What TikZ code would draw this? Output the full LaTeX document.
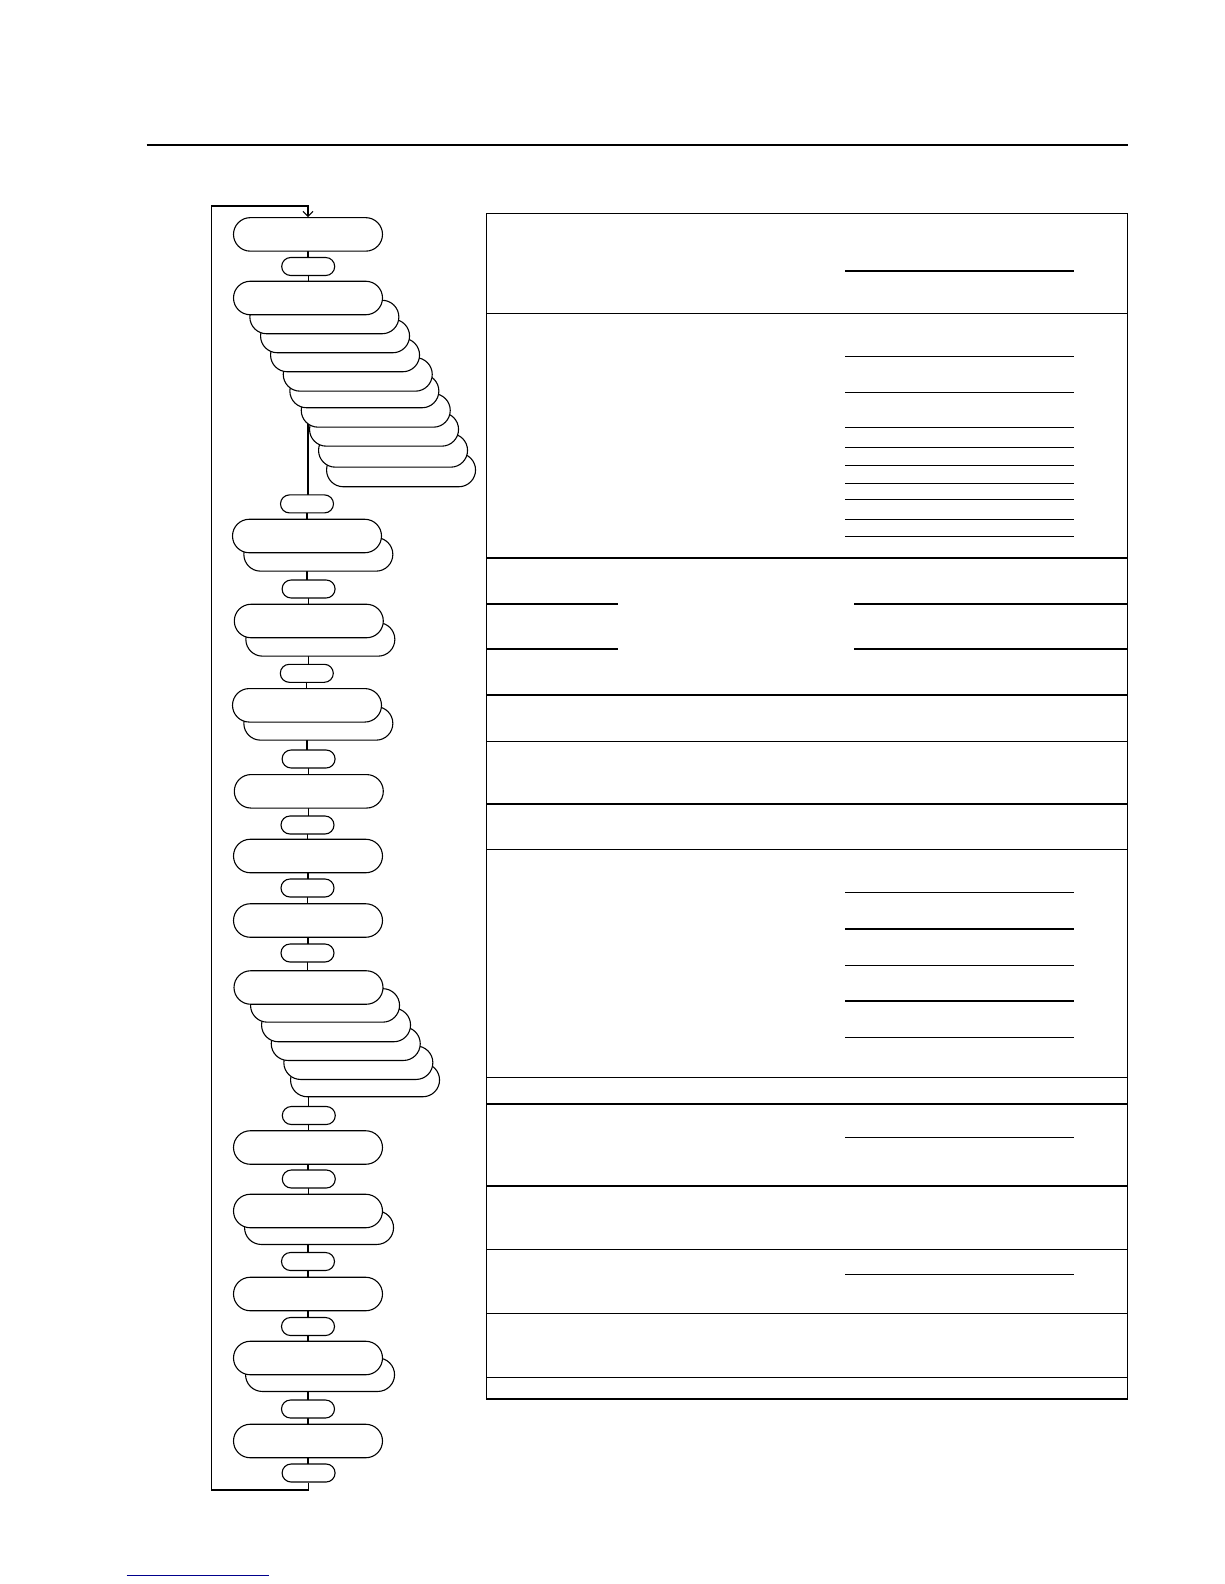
\documentclass[tikz,border=0pt]{standalone}
\usetikzlibrary{arrows.meta}
\pgfdeclarelayer{bg}
\pgfsetlayers{bg,main}
\tikzset{
  bigpill/.style={draw, fill=white, line width=1.1pt, rounded corners=16.75pt,
    minimum width=149pt, minimum height=33.5pt, inner sep=0pt},
  smallpill/.style={draw, fill=white, line width=1.1pt, rounded corners=9pt,
    minimum width=53pt, minimum height=18pt, inner sep=0pt},
  layer/.style={bigpill, anchor=south west},
  conn/.style={line width=1.1pt},
  tframe/.style={line width=1.4pt},
  shortline/.style={line width=1.4pt}
}
\begin{document}
\begin{tikzpicture}[x=1pt,y=-1pt]
\useasboundingbox (0,0) rectangle (1224,1584);

% top rule
\draw[line width=2.6pt] (146.7,145) -- (1127.7,145);

% ---- left flow chart ----
% stack behind P2 (back to front)
\foreach \i/\l/\b in {10/326/487.3, 9/318/467.7, 8/309/446.7, 7/300.7/427.7,
   6/289.3/408.3, 5/282.7/391.7, 4/270/372.3, 3/260/353.3, 2/249.3/334.3}
  \node[layer] (P2L\i) at (\l,\b) {};
% stack behind P9
\foreach \i/\l/\b in {6/290/1097.3, 5/283.3/1080, 4/270.7/1061, 3/261/1042.3, 2/250/1022.7}
  \node[layer] (P9L\i) at (\l,\b) {};
% single back layers
\node[layer] (P3L2) at (243.3,571.7) {};
\node[layer] (P4L2) at (245.3,656.7) {};
\node[layer] (P5L2) at (243.3,740.7) {};
\node[layer] (P11L2) at (244,1245) {};
\node[layer] (P13L2) at (245,1392) {};

% front pills
\node[bigpill] (P1) at (308,234.4) {};
\node[bigpill] (P2) at (308,298) {};
\node[bigpill] (P3) at (307,536) {};
\node[bigpill] (P4) at (308.8,621) {};
\node[bigpill] (P5) at (307,705.3) {};
\node[bigpill] (P6) at (308.8,791.3) {};
\node[bigpill] (P7) at (308,856) {};
\node[bigpill] (P8) at (308,920.5) {};
\node[bigpill] (P9) at (308.5,987.5) {};
\node[bigpill] (P10) at (308,1147.5) {};
\node[bigpill] (P11) at (308,1211) {};
\node[bigpill] (P12) at (308,1294) {};
\node[bigpill] (P13) at (308,1358) {};
\node[bigpill] (P14) at (308,1441) {};

% small pills
\node[smallpill] (S1) at (308.2,266.5) {};
\node[smallpill] (S2) at (307,503.9) {};
\node[smallpill] (S3) at (308.6,589) {};
\node[smallpill] (S4) at (306.8,673.3) {};
\node[smallpill] (S5) at (308.6,759) {};
\node[smallpill] (S6) at (307.5,825) {};
\node[smallpill] (S7) at (307.5,888) {};
\node[smallpill] (S8) at (307.5,953) {};
\node[smallpill] (S9) at (308.8,1115.5) {};
\node[smallpill] (S10) at (308.8,1179) {};
\node[smallpill] (S11) at (308,1261.5) {};
\node[smallpill] (S12) at (308,1326.5) {};
\node[smallpill] (S13) at (308,1409) {};
\node[smallpill] (S14) at (308.6,1473) {};

% background and connectors (behind the pills)
\begin{pgfonlayer}{bg}
\fill[white] (0,0) rectangle (1224,1584);
\foreach \a/\b in {P1/S1, S1/P2, P2/S2, S2/P3, P3/S3, S3/P4, P4/S4, S4/P5, P5/S5,
   S5/P6, P6/S6, S6/P7, P7/S7, S7/P8, P8/S8, S8/P9, P9/S9, S9/P10, P10/S10,
   S10/P11, P11/S11, S11/P12, P12/S12, S12/P13, P13/S13, S13/P14, P14/S14}
  \draw[conn] (\a.center) -- (\a.center |- \b.center);
\end{pgfonlayer}

% loop back
\coordinate (loopBL) at (211.7,1490);
\coordinate (loopTL) at (211.7,206);
\draw[conn, -{Straight Barb[length=5pt,width=10pt]}]
  (S14.south) |- (loopBL) -- (loopTL) -| (P1.north);

% ---- right table ----
\draw[tframe] (486.7,213.3) rectangle (1127.3,1399);
\foreach \y in {313.3, 558, 695, 741.3, 803.9, 849.3, 1077.3, 1104, 1186, 1249.3, 1313.3, 1377.3}
  \draw[tframe] (486.7,\y) -- (1127.3,\y);
\foreach \y in {271, 356.3, 392.3, 427.7, 447.3, 465.7, 483.3, 499.3, 519.3, 536.3,
   892.7, 929, 965.5, 1000.8, 1037.2, 1137.3, 1274.3}
  \draw[shortline] (845,\y) -- (1074,\y);
\foreach \y in {604, 649} {
  \draw[shortline] (486.7,\y) -- (618.3,\y);
  \draw[shortline] (854,\y) -- (1127.3,\y);
}

% bottom link underline
\draw[line width=1pt, color={rgb,255:red,0;green,0;blue,140}] (126.7,1575) -- (269,1575);
\end{tikzpicture}
\end{document}
